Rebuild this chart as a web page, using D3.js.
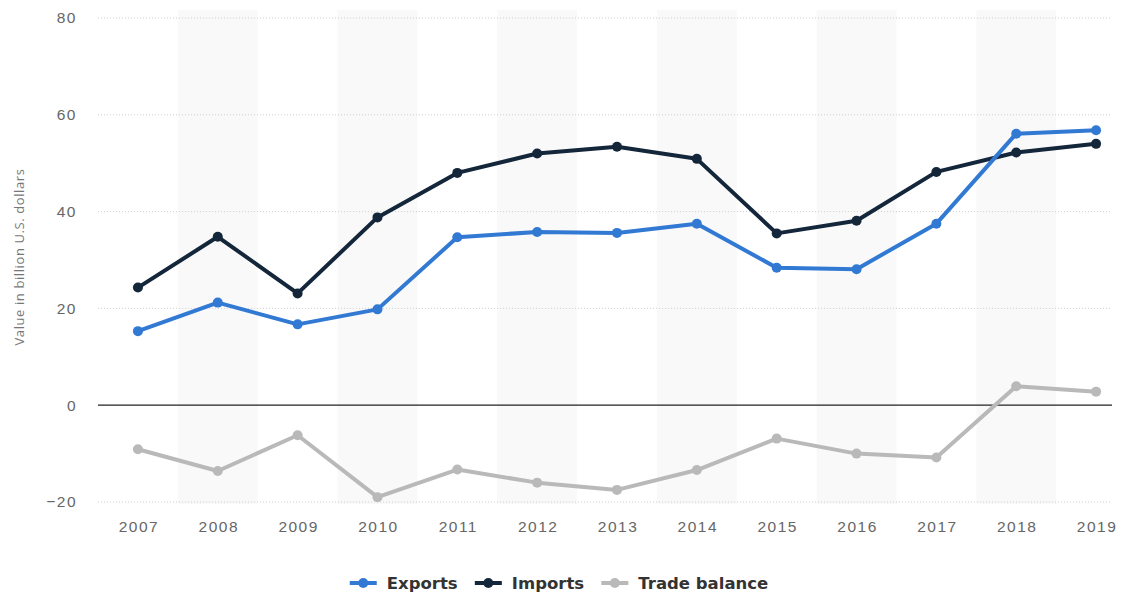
<!DOCTYPE html>
<html>
<head>
<meta charset="utf-8">
<script src="https://cdn.jsdelivr.net/npm/d3@7"></script>
<style>
  body { margin: 0; background: #fff; }
  svg { display: block; font-family: "Open Sans", "Noto Sans", sans-serif; }
</style>
</head>
<body>
<svg id="chart" width="1129" height="599"></svg>
<script>
// values (billion U.S. dollars)
const years = ["2007", "2008", "2009", "2010", "2011", "2012", "2013", "2014", "2015", "2016", "2017", "2018", "2019"];
const exportsVals = [15.3, 21.2, 16.7, 19.8, 34.7, 35.8, 35.6, 37.5, 28.4, 28.1, 37.5, 56.1, 56.8];
const importsVals = [24.3, 34.8, 23.1, 38.8, 48.0, 52.0, 53.4, 50.9, 35.5, 38.1, 48.2, 52.2, 54.0];
const balanceVals = [-9.1, -13.6, -6.2, -19.0, -13.3, -16.0, -17.5, -13.4, -6.9, -10.0, -10.8, 3.9, 2.8];
const yTicks = [-20, 0, 20, 40, 60, 80];

const series = [
    {name: "Exports", values: exportsVals, color: "#3179d3"},
    {name: "Imports", values: importsVals, color: "#13263a"},
    {name: "Trade balance", values: balanceVals, color: "#b9b9b9"}
];

const svg = d3.select("#chart");
const plotLeft = 98, plotRight = 1136, plotTop = 18, plotBottom = 502;

const x = d3.scaleBand().domain(years).range([plotLeft, plotRight]);
const y = d3.scaleLinear().domain([-20, 80]).range([plotBottom, plotTop]);
const cx = d => x(d) + x.bandwidth() / 2;

// alternating column shading
svg.append("g")
    .selectAll("rect")
    .data(years.filter((d, i) => i % 2 === 1))
    .join("rect")
    .attr("x", d => x(d))
    .attr("y", plotTop - 8)
    .attr("width", x.bandwidth())
    .attr("height", plotBottom - plotTop + 10)
    .attr("fill", "#f9f9f9");

// grid
const gridRight = 1112;
svg.append("g")
    .selectAll("line")
    .data(yTicks.filter(d => d !== 0))
    .join("line")
    .attr("x1", plotLeft)
    .attr("x2", gridRight)
    .attr("y1", d => y(d))
    .attr("y2", d => y(d))
    .attr("stroke", "#cfcfcf")
    .attr("stroke-width", 1)
    .attr("stroke-dasharray", "1,2");

svg.append("line")
    .attr("x1", plotLeft)
    .attr("x2", gridRight)
    .attr("y1", y(0))
    .attr("y2", y(0))
    .attr("stroke", "#222")
    .attr("stroke-width", 1.2);

// y axis
const yAxis = d3.axisLeft(y).tickValues(yTicks).tickSize(0).tickPadding(0);
const yg = svg.append("g").attr("transform", `translate(77,0)`).call(yAxis);
yg.select(".domain").remove();
yg.selectAll("text")
    .attr("fill", "#666")
    .attr("font-size", 15.5)
    .attr("letter-spacing", "1.5px");

svg.append("text")
    .attr("transform", `translate(24,257) rotate(-90)`)
    .attr("text-anchor", "middle")
    .attr("fill", "#777")
    .attr("font-size", 13)
    .attr("letter-spacing", "0.6px")
    .text("Value in billion U.S. dollars");

// x axis
const xAxis = d3.axisBottom(x).tickSize(0).tickPadding(0);
const xg = svg.append("g").attr("transform", `translate(1,${plotBottom + 30})`).call(xAxis);
xg.select(".domain").remove();
xg.selectAll("text")
    .attr("fill", "#666")
    .attr("font-size", 15.5)
    .attr("dy", 0)
    .attr("letter-spacing", "1.5px");

// lines
const line = d3.line()
    .x((d, i) => cx(years[i]))
    .y(d => y(d));

const lines = svg.append("g");
series.slice().reverse().forEach(s => {
    lines.append("path")
        .datum(s.values)
        .attr("fill", "none")
        .attr("stroke", s.color)
        .attr("stroke-width", 4)
        .attr("stroke-linejoin", "round")
        .attr("d", line);
    lines.append("g")
        .selectAll("circle")
        .data(s.values)
        .join("circle")
        .attr("cx", (d, i) => cx(years[i]))
        .attr("cy", d => y(d))
        .attr("r", 5)
        .attr("fill", s.color);
});

// legend
const legend = svg.append("g")
    .attr("font-family", "'DejaVu Sans', Verdana, sans-serif");

const items = legend.selectAll("g")
    .data(series)
    .join("g");

items.append("line")
    .attr("x1", 0).attr("x2", 27)
    .attr("stroke", d => d.color)
    .attr("stroke-width", 4);
items.append("circle")
    .attr("cx", 13.5)
    .attr("r", 5)
    .attr("fill", d => d.color);
items.append("text")
    .attr("x", 37)
    .attr("dy", "0.36em")
    .attr("fill", "#333")
    .attr("font-size", 16.5)
    .attr("font-weight", "bold")
    .text(d => d.name);

// place legend items one after another, centred
let pos = 0;
items.each(function() {
    const w = this.getBBox().width;
    d3.select(this).attr("transform", `translate(${pos},583)`);
    pos += w + 17;
});
const total = pos - 17;
legend.attr("transform", `translate(${559 - total / 2},0)`);
</script>
</body>
</html>
